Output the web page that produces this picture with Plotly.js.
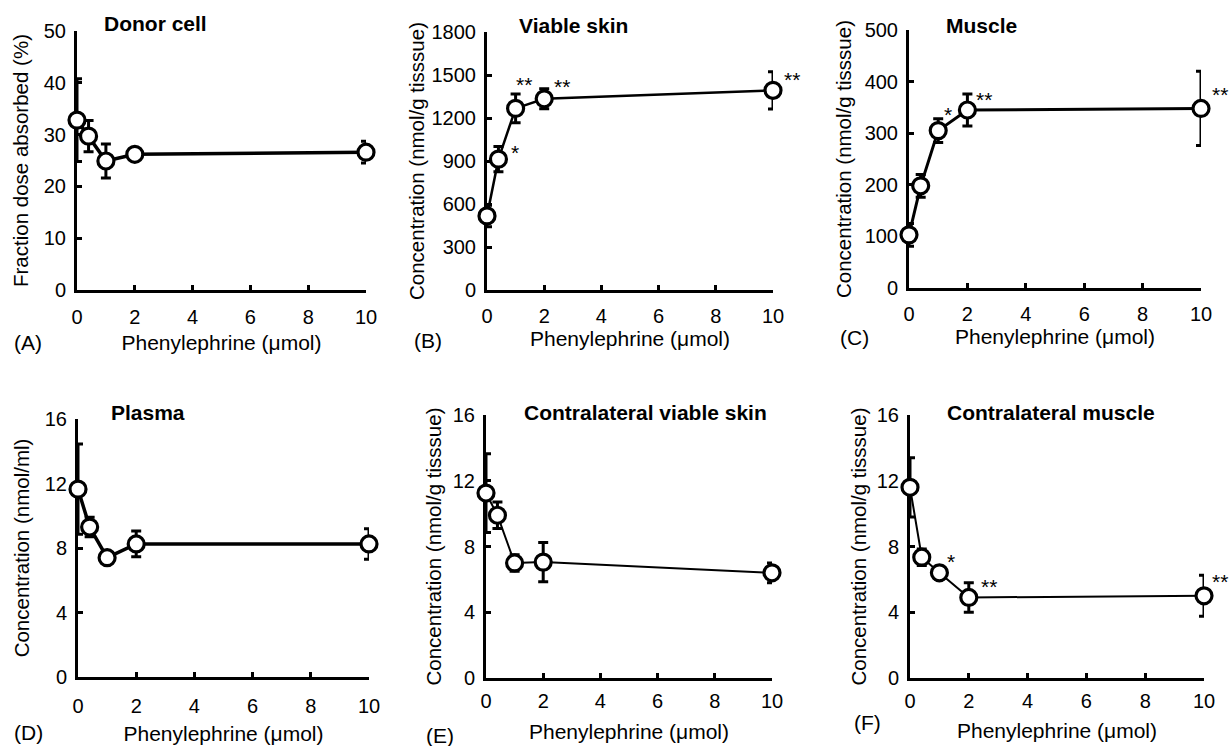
<!DOCTYPE html>
<html>
<head>
<meta charset="utf-8">
<script src="https://cdn.plot.ly/plotly-3.0.1.min.js"></script>
<style>
html, body { margin: 0; padding: 0; background: #ffffff; }
#chart { width: 1230px; height: 746px; }
</style>
</head>
<body>
<div id="chart"></div>
<script>
// ---------------- DATA ----------------
const doses = [0, 0.4, 1, 2, 10];
const xTickVals = [0, 2, 4, 6, 8, 10];

const panelTitles = ["Donor cell", "Viable skin", "Muscle", "Plasma", "Contralateral viable skin", "Contralateral muscle"];
const panelLetters = ["(A)", "(B)", "(C)", "(D)", "(E)", "(F)"];
const yTitles = [
  "Fraction dose absorbed (%)",
  "Concentration (nmol/g tisssue)",
  "Concentration (nmol/g tisssue)",
  "Concentration (nmol/ml)",
  "Concentration (nmol/g tisssue)",
  "Concentration (nmol/g tisssue)"
];
const xTitle = "Phenylephrine (\u03bcmol)";

const donorCell = [32.8, 29.7, 24.9, 26.2, 26.6];
const donorCellErr = [8.0, 3.0, 3.3, 0.8, 2.1];
const viableSkin = [517, 913, 1267, 1334, 1393];
const viableSkinErr = [75, 88, 100, 70, 130];
const muscle = [103, 198, 305, 345, 348];
const muscleErr = [22, 22, 23, 31, 72];
const plasma = [11.65, 9.3, 7.4, 8.25, 8.25];
const plasmaErr = [2.8, 0.6, 0.3, 0.8, 0.95];
const contraSkin = [11.25, 9.9, 7.0, 7.05, 6.4];
const contraSkinErr = [2.4, 0.8, 0.5, 1.2, 0.6];
const contraMuscle = [11.6, 7.35, 6.4, 4.9, 5.0];
const contraMuscleErr = [1.8, 0.5, 0.4, 0.9, 1.25];

const sigA = ["", "", "", "", ""];
const sigB = ["", "*", "**", "**", "**"];
const sigC = ["", "", "*", "**", "**"];
const sigD = ["", "", "", "", ""];
const sigE = ["", "", "", "", ""];
const sigF = ["", "", "*", "**", "**"];

const yMax = [50, 1800, 500, 16, 16, 16];
const yStep = [10, 300, 100, 4, 4, 4];

// ---------------- STYLE / LAYOUT ----------------
const W = 1230, H = 746;
const FONT = "Liberation Sans, Arial, Helvetica, sans-serif";
const FS = 20;
const series = [donorCell, viableSkin, muscle, plasma, contraSkin, contraMuscle];
const errs = [donorCellErr, viableSkinErr, muscleErr, plasmaErr, contraSkinErr, contraMuscleErr];
const sigs = [sigA, sigB, sigC, sigD, sigE, sigF];

// plot boxes in pixels [x0, x1, yTop, yBottom]
const boxes = [
  [77, 366, 31, 290],
  [487, 773, 32, 290],
  [909, 1201, 30, 288],
  [78, 369, 419, 677],
  [486, 772, 415, 678],
  [910, 1204, 415, 678]
];
const lineWidths = [3.5, 2.5, 3, 3.5, 2, 2];
const yTitleStandoff = [10, 2, 8, 10, 6, 5];
const xLabelStandoff = [7, 6, 6, 9, 3, 3];
const xTitleStandoff = [9, 6, 6, 11, 14, 13];
const titlePos = [[155, 23], [573, 25], [981, 25], [148, 412], [645, 412], [1051, 412]];
const letterPos = [[28, 342], [428, 340], [855, 337], [28, 732], [440, 735], [867, 722]];
// star label offsets (px) per panel per point
const starShift = [
  [null, null, null, null, null],
  [null, [17, 7], [8, 24], [18, 12], [19, 11]],
  [null, null, [10, 16], [17, 10], [19, 14]],
  [null, null, null, null, null],
  [null, null, null, null, null],
  [null, null, [12, 11], [20, 11], [16, 14]]
];

const px = x => x / W;
const py = y => 1 - y / H;

const traces = [];
const layout = {
  width: W, height: H,
  margin: {l: 0, r: 0, t: 0, b: 0},
  paper_bgcolor: "#ffffff",
  plot_bgcolor: "rgba(0,0,0,0)",
  showlegend: false,
  font: {family: FONT, color: "#000000", size: FS},
  annotations: []
};

for (let i = 0; i < 6; i++) {
  const n = i + 1;
  const xa = n === 1 ? "x" : "x" + n;
  const ya = n === 1 ? "y" : "y" + n;
  const b = boxes[i];
  traces.push({
    type: "scatter",
    mode: "lines+markers",
    x: doses,
    y: series[i],
    xaxis: xa, yaxis: ya,
    cliponaxis: false,
    line: {color: "#000000", width: lineWidths[i]},
    marker: {symbol: "circle", size: 16, color: "#ffffff", line: {color: "#000000", width: 3.2}},
    error_y: {type: "data", array: errs[i], visible: true, color: "#000000", thickness: 3, width: 5}
  });
  const yticks = [];
  for (let v = 0; v <= yMax[i] + 1e-9; v += yStep[i]) yticks.push(v);
  layout["xaxis" + (n === 1 ? "" : n)] = {
    domain: [px(b[0]), px(b[1])],
    anchor: ya,
    range: [0, 10],
    tickvals: xTickVals,
    ticktext: xTickVals.map(String),
    showline: true, linewidth: 3, linecolor: "#000000",
    ticks: "inside", ticklen: 5, tickwidth: 3, tickcolor: "#000000",
    showgrid: false, zeroline: false,
    tickfont: {family: FONT, size: FS, color: "#000000"},
    ticklabelstandoff: xLabelStandoff[i],
    layer: "below traces",
    title: {text: xTitle, font: {family: FONT, size: 21, color: "#000000"}, standoff: xTitleStandoff[i]}
  };
  layout["yaxis" + (n === 1 ? "" : n)] = {
    domain: [py(b[3]), py(b[2])],
    anchor: xa,
    range: [0, yMax[i]],
    tickvals: yticks,
    ticktext: yticks.map(String),
    showline: true, linewidth: 3, linecolor: "#000000",
    ticks: "inside", ticklen: 5, tickwidth: 3, tickcolor: "#000000",
    showgrid: false, zeroline: false,
    tickfont: {family: FONT, size: FS, color: "#000000"},
    ticklabelstandoff: 4,
    layer: "below traces",
    title: {text: yTitles[i], font: {family: FONT, size: 20.5, color: "#000000"}, standoff: yTitleStandoff[i]}
  };
  // panel title
  layout.annotations.push({
    xref: "paper", yref: "paper", x: px(titlePos[i][0]), y: py(titlePos[i][1]),
    xanchor: "center", yanchor: "middle", showarrow: false,
    text: "<b>" + panelTitles[i] + "</b>",
    font: {family: FONT, size: 21, color: "#000000"}
  });
  // panel letter
  layout.annotations.push({
    xref: "paper", yref: "paper", x: px(letterPos[i][0]), y: py(letterPos[i][1]),
    xanchor: "center", yanchor: "middle", showarrow: false,
    text: panelLetters[i],
    font: {family: FONT, size: 21, color: "#000000"}
  });
  // significance stars
  for (let k = 0; k < doses.length; k++) {
    if (!sigs[i][k]) continue;
    const s = starShift[i][k] || [16, 14];
    layout.annotations.push({
      xref: xa, yref: ya, x: doses[k], y: series[i][k],
      xshift: s[0], yshift: s[1],
      xanchor: "center", yanchor: "middle", showarrow: false,
      text: sigs[i][k],
      font: {family: FONT, size: 21, color: "#000000"}
    });
  }
}

Plotly.newPlot("chart", traces, layout, {displayModeBar: false, staticPlot: true});
</script>
</body>
</html>
